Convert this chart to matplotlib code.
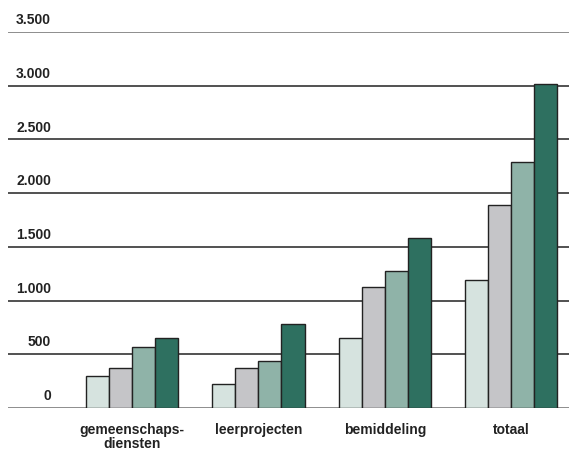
import matplotlib.pyplot as plt
import numpy as np

plt.rcParams['font.family'] = ['Liberation Sans', 'DejaVu Sans']

# categories and the four series (one per bar colour)
categories = ['gemeenschaps-\ndiensten', 'leerprojecten', 'bemiddeling', 'totaal']
serie1 = [298, 223, 655, 1192]
serie2 = [372, 372, 1130, 1890]
serie3 = [568, 438, 1273, 2290]
serie4 = [652, 782, 1586, 3020]
yticks = [0, 500, 1000, 1500, 2000, 2500, 3000, 3500]
ylabels = ['0', '500', '1.000', '1.500', '2.000', '2.500', '3.000', '3.500']

colors = ['#d6e3df', '#c5c5c8', '#8fb3a8', '#2e7060']

fig = plt.figure(figsize=(5.69, 4.53), dpi=100)
ax = fig.add_axes([8 / 569, 45 / 453, 561 / 569, 376 / 453])

x = np.arange(len(categories))
w = 0.182
for i, vals in enumerate([serie1, serie2, serie3, serie4]):
    ax.bar(x + (i - 1.5) * w, vals, width=w, color=colors[i],
           edgecolor='#222222', linewidth=1.0, zorder=3)

# gridlines with labels sitting above them (outer lines lighter)
for t, lab in zip(yticks, ylabels):
    c = '#7a7a7a' if t in (0, 3500) else '#333333'
    ax.axhline(t, color=c, linewidth=1.2, zorder=1)
    ax.text(43 / 561, t + 45, lab, transform=ax.get_yaxis_transform(),
            fontsize=10, fontweight='bold', color='#222222',
            ha='right', va='bottom')

ax.set_xlim(-0.98, 3.455)
ax.set_ylim(0, 3500)
ax.set_xticks(x)
ax.set_xticklabels(categories, fontsize=10, fontweight='bold', color='#222222',
                   linespacing=0.95)
ax.tick_params(axis='x', length=0, pad=11)
ax.set_yticks([])
for s in ax.spines.values():
    s.set_visible(False)

fig.savefig('out.png', dpi=100)
